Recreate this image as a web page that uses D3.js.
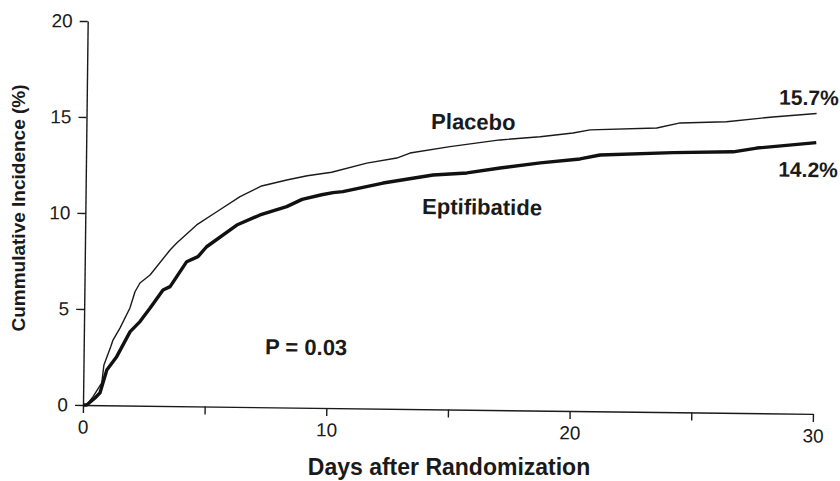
<!DOCTYPE html>
<html>
<head>
<meta charset="utf-8">
<script src="https://cdn.jsdelivr.net/npm/d3@7"></script>
<style>
  html, body { margin: 0; padding: 0; background: #fff; }
  svg { display: block; }
  text { font-family: "Liberation Sans", Arial, Helvetica, sans-serif; fill: #1a1a1a; }
</style>
</head>
<body>
<svg id="chart" width="840" height="481"></svg>
<script>
// ---- Data ----
const placeboDays = [0, 0.15, 0.41, 0.76, 0.84, 1.11, 1.20, 1.48, 1.88, 2.08, 2.28, 2.69, 3.50, 3.77, 4.58, 5.40, 6.35, 7.23, 8.26, 9.10, 10.10, 11.54, 12.77, 13.31, 14.95, 17.0, 18.65, 20.0, 20.7, 23.44, 24.4, 26.3, 28.2, 30.0];
const placeboValues = [0, 0.0, 0.44, 1.16, 2.10, 3.05, 3.40, 4.03, 5.08, 5.93, 6.39, 6.81, 8.13, 8.50, 9.45, 10.15, 10.95, 11.52, 11.85, 12.08, 12.28, 12.78, 13.06, 13.33, 13.69, 14.07, 14.26, 14.48, 14.65, 14.79, 15.07, 15.16, 15.44, 15.65];

const eptifibatideDays = [0, 0.15, 0.49, 0.69, 0.96, 1.36, 1.90, 2.30, 2.71, 3.23, 3.52, 4.19, 4.65, 5.0, 6.23, 7.18, 8.27, 8.9, 9.7, 10.17, 10.57, 12.22, 14.27, 15.66, 17.02, 18.67, 20.3, 21.12, 24.12, 26.59, 27.56, 30.0];
const eptifibatideValues = [0, 0.0, 0.37, 0.64, 1.84, 2.54, 3.85, 4.38, 5.09, 6.04, 6.22, 7.53, 7.80, 8.32, 9.47, 10.01, 10.46, 10.85, 11.10, 11.22, 11.28, 11.75, 12.20, 12.33, 12.61, 12.90, 13.13, 13.35, 13.52, 13.60, 13.81, 14.13];

const xTicks = [0, 5, 10, 15, 20, 25, 30];
const xTickLabels = ["0", "", "10", "", "20", "", "30"];
const yTicks = [0, 5, 10, 15, 20];
const yTickLabels = ["0", "5", "10", "15", "20"];

const seriesNames = ["Placebo", "Eptifibatide"];
const endLabels = ["15.7%", "14.2%"];
const pValueText = "P = 0.03";
const xTitle = "Days after Randomization";
const yTitle = "Cummulative Incidence (%)";

// ---- Layout ----
const svg = d3.select("#chart");
const origin = { x: 83, y: 405 };
const plotW = 730, plotH = 384;
const tilt = 0.7; // scan tilt in degrees

const x = d3.scaleLinear().domain([0, 30]).range([0, plotW]);
const y = d3.scaleLinear().domain([0, 20]).range([0, -plotH]);

const g = svg.append("g")
  .attr("transform", `translate(${origin.x},${origin.y}) rotate(${tilt})`);

// axes
const xAxis = d3.axisBottom(x)
  .tickValues(xTicks)
  .tickSize(8)
  .tickSizeOuter(0)
  .tickPadding(7)
  .tickFormat((d, i) => xTickLabels[i]);
const yAxis = d3.axisLeft(y)
  .tickValues(yTicks)
  .tickSize(8)
  .tickSizeOuter(0)
  .tickPadding(7)
  .tickFormat((d, i) => yTickLabels[i]);

const gx = g.append("g").call(xAxis);
const gy = g.append("g").call(yAxis);
[gx, gy].forEach(a => {
  a.selectAll("path.domain").attr("stroke", "#1a1a1a").attr("stroke-width", 1.4);
  a.selectAll(".tick line").attr("stroke", "#1a1a1a").attr("stroke-width", 1.4);
  a.selectAll(".tick text")
    .style("font-family", '"Liberation Sans", Arial, sans-serif')
    .style("font-size", "19px")
    .attr("fill", "#2a2a2a");
});

// lines
const line = d3.line().x(d => x(d[0])).y(d => y(d[1])).curve(d3.curveLinear);
const placebo = placeboDays.map((d, i) => [d, placeboValues[i]]);
const eptif = eptifibatideDays.map((d, i) => [d, eptifibatideValues[i]]);

g.append("path").datum(placebo)
  .attr("d", line).attr("fill", "none")
  .attr("stroke", "#1a1a1a").attr("stroke-width", 1.4)
  .attr("stroke-linejoin", "round");
g.append("path").datum(eptif)
  .attr("d", line).attr("fill", "none")
  .attr("stroke", "#111").attr("stroke-width", 3.4)
  .attr("stroke-linejoin", "round");

// annotations inside the plot
const ann = g.append("g").style("font-weight", "bold");
ann.append("text").attr("x", x(15.9)).attr("y", y(15.0)).attr("dy", "0.35em")
  .attr("text-anchor", "middle").style("font-size", "22px").text(seriesNames[0]);
ann.append("text").attr("x", x(16.3)).attr("y", y(10.57)).attr("dy", "0.35em")
  .attr("text-anchor", "middle").style("font-size", "22px").text(seriesNames[1]);
ann.append("text").attr("x", x(30.9)).attr("y", y(16.47)).attr("dy", "0.35em")
  .attr("text-anchor", "end").style("font-size", "21px").text(endLabels[0]);
ann.append("text").attr("x", x(30.9)).attr("y", y(12.72)).attr("dy", "0.35em")
  .attr("text-anchor", "end").style("font-size", "21px").text(endLabels[1]);
ann.append("text").attr("x", x(9.14)).attr("y", y(3.16)).attr("dy", "0.35em")
  .attr("text-anchor", "middle").style("font-size", "22px").text(pValueText);

// axis titles
svg.append("text")
  .attr("x", 449).attr("y", 475)
  .attr("text-anchor", "middle")
  .style("font-weight", "bold").style("font-size", "23px")
  .text(xTitle);
svg.append("text")
  .attr("transform", "translate(25,208) rotate(-90)")
  .attr("text-anchor", "middle")
  .style("font-weight", "bold").style("font-size", "19px")
  .text(yTitle);
</script>
</body>
</html>
